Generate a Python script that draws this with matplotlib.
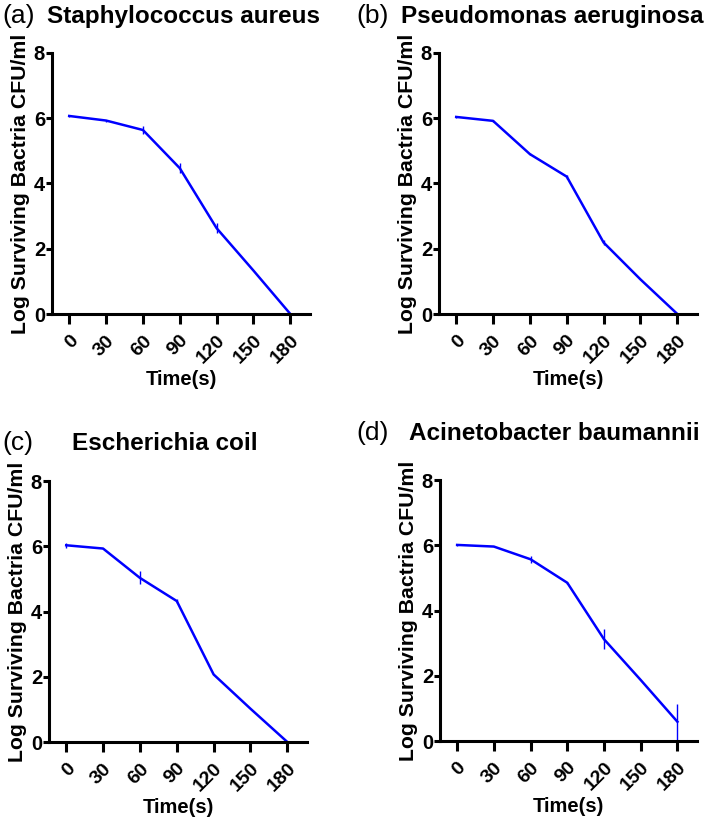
import numpy as np
import matplotlib.pyplot as plt

plt.rcParams['font.family'] = ['Liberation Sans', 'DejaVu Sans']

time_s = [0, 30, 60, 90, 120, 150, 180]

staph_mean = [6.07, 5.93, 5.64, 4.47, 2.63, 1.33, 0.0]
staph_err = [0.03, 0.03, 0.12, 0.15, 0.15, 0.0, 0.0]

pseudo_mean = [6.04, 5.92, 4.90, 4.21, 2.19, 1.06, 0.0]
pseudo_err = [0.02, 0.04, 0.03, 0.06, 0.08, 0.0, 0.0]

ecoli_mean = [6.03, 5.93, 5.03, 4.32, 2.07, 1.02, 0.0]
ecoli_err = [0.08, 0.02, 0.2, 0.06, 0.0, 0.0, 0.0]

acineto_mean = [6.01, 5.96, 5.57, 4.85, 3.12, 1.87, 0.59]
acineto_err = [0.02, 0.02, 0.1, 0.03, 0.3, 0.0, 0.55]

panels = [
    ('(a)', 'Staphylococcus aureus', staph_mean, staph_err),
    ('(b)', 'Pseudomonas aeruginosa', pseudo_mean, pseudo_err),
    ('(c)', 'Escherichia coil', ecoli_mean, ecoli_err),
    ('(d)', 'Acinetobacter baumannii', acineto_mean, acineto_err),
]

# axes boxes in pixels: left, top, right, bottom
W, H = 709, 821
boxes = [
    (52, 53, 310, 314),
    (439, 53, 697, 314),
    (49, 481, 307, 742),
    (440, 480, 697, 741),
]
# title positions in pixels: (label x, label y, name x)
title_pos = [
    (2, 16, 47),
    (356, 16, 401),
    (2, 443, 72),
    (356, 433, 409),
]

fig = plt.figure(figsize=(W / 100, H / 100), dpi=100)

for (lab, name, mean, err), (l, t, r, b), (lx, ly, nx) in zip(panels, boxes, title_pos):
    ax = fig.add_axes([l / W, 1 - b / H, (r - l) / W, (b - t) / H])
    ax.errorbar(time_s, mean, yerr=err, color='#0000ff', lw=1.8,
                elinewidth=1.0, capsize=0, clip_on=True)
    ax.set_xlim(-14, 196)
    ax.set_ylim(0, 8)
    ax.set_xticks(time_s)
    ax.set_xticklabels([str(v) for v in time_s], rotation=45, ha='right',
                       rotation_mode='anchor', fontsize=14, fontweight='bold')
    ax.set_yticks([0, 2, 4, 6, 8])
    ax.set_yticklabels(['0', '2', '4', '6', '8'], fontsize=14.5, fontweight='bold')
    for s in ['top', 'right']:
        ax.spines[s].set_visible(False)
    for s in ['left', 'bottom']:
        ax.spines[s].set_linewidth(2.2)
    ax.tick_params(axis='y', length=4, width=2.2, pad=1)
    ax.tick_params(axis='x', length=7, width=2.2, pad=6)
    ax.set_xlabel('Time(s)', fontsize=14.5, fontweight='bold', labelpad=2)
    ax.set_ylabel('Log Surviving Bactria CFU/ml', fontsize=15.3, fontweight='bold', labelpad=3)

    fig.text(lx / W, 1 - ly / H, lab, fontsize=19, va='center', ha='left')
    fig.text(nx / W, 1 - ly / H, name, fontsize=17.5, fontweight='bold', va='center', ha='left')

fig.savefig('out.png', dpi=100)
